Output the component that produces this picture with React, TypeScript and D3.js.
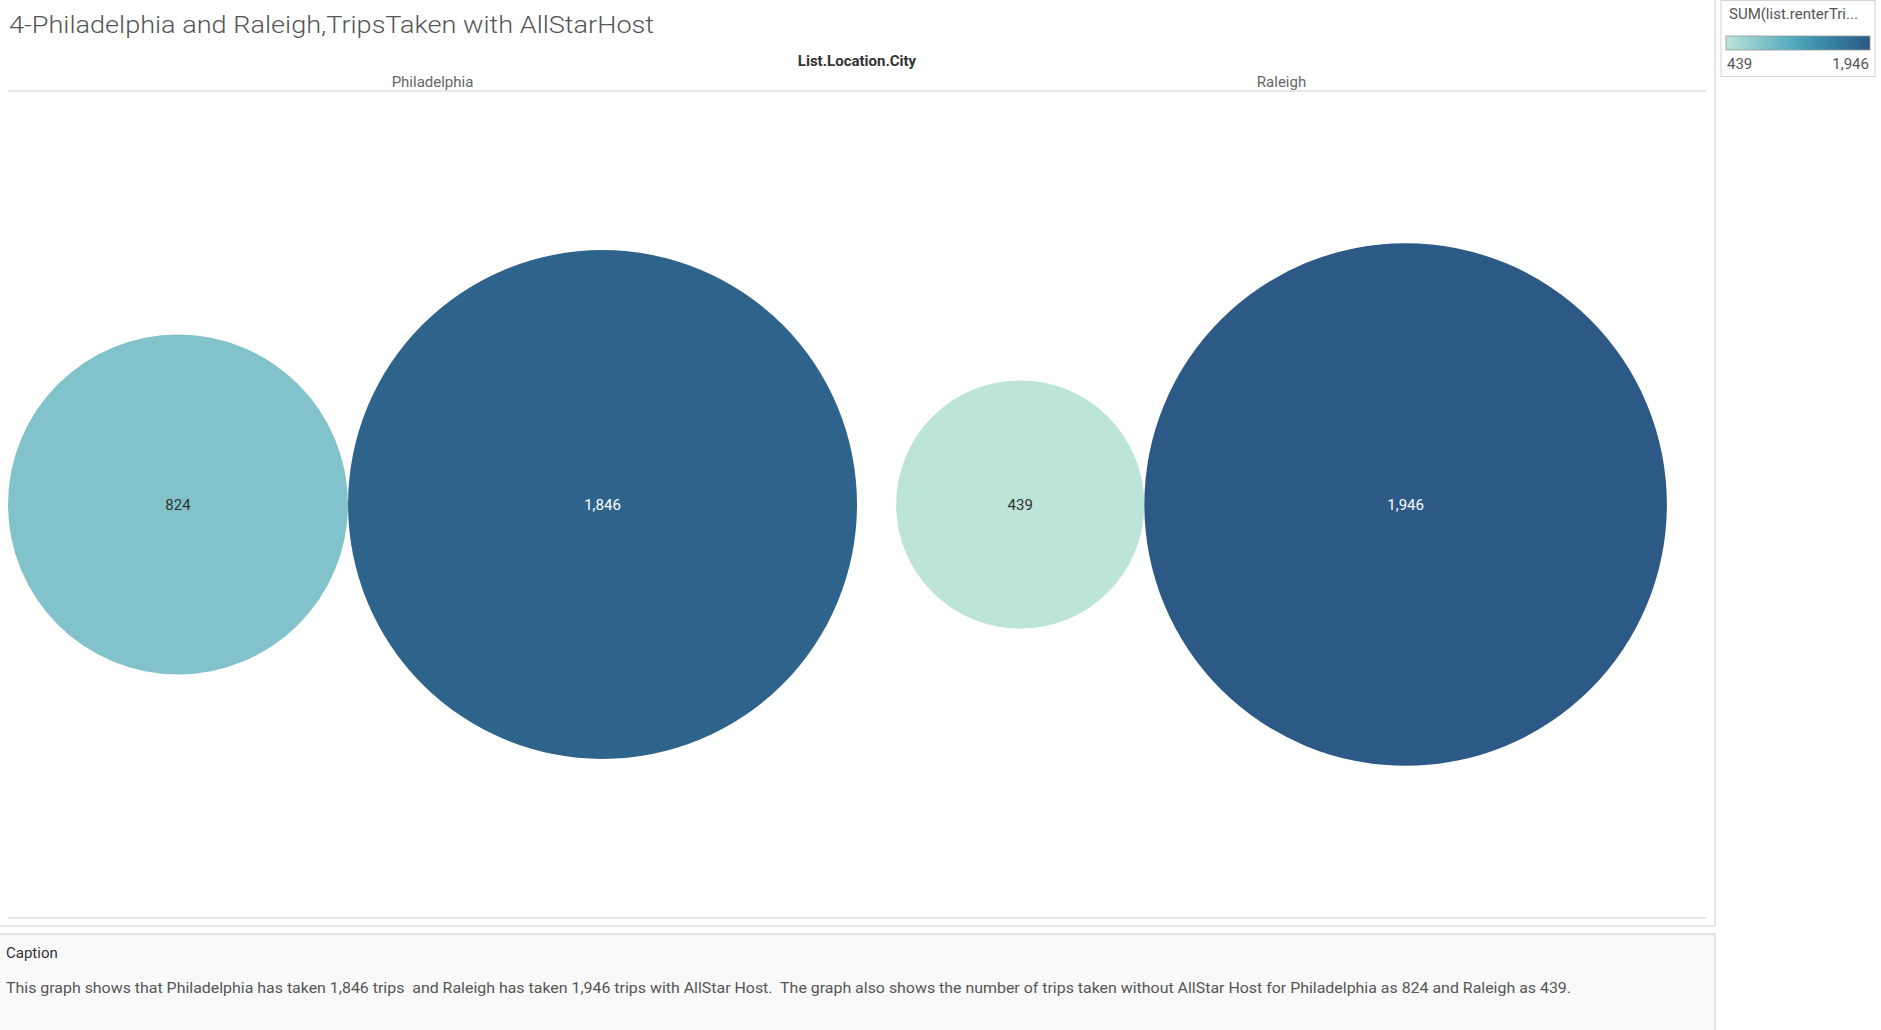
import React from "react";
import * as d3 from "d3";

const cities = ["Philadelphia", "Raleigh"];
const hostGroups = ["Without AllStar Host", "With AllStar Host"];
const philadelphiaTrips = [824, 1846];
const raleighTrips = [439, 1946];
const colorStops = ["#bce4d8", "#83c4cb", "#4ba5ba", "#347ea1", "#2c5985"];
const titleText = "4-Philadelphia and Raleigh,TripsTaken with AllStarHost";
const captionText =
  "This graph shows that Philadelphia has taken 1,846 trips  and Raleigh has taken 1,946 trips with AllStar Host.  The graph also shows the number of trips taken without AllStar Host for Philadelphia as 824 and Raleigh as 439.";

const W = 1881;
const H = 1030;
const FONT = "'Liberation Sans Narrow', 'Roboto', 'Liberation Sans', sans-serif";

export default function App() {
  const series = [philadelphiaTrips, raleighTrips];
  const all = series.flat();
  const vMin = d3.min(all) as number;
  const vMax = d3.max(all) as number;

  const plotLeft = 8;
  const plotRight = 1706;
  const plotTop = 91;
  const plotBottom = 918;
  const cy = (plotTop + plotBottom) / 2;

  const paneScale = d3.scaleBand<string>().domain(cities).range([plotLeft, plotRight]);
  const paneW = paneScale.bandwidth();

  // sqrt radius scale sized so the widest pane's circles fill it
  const k0 = d3.scaleSqrt().domain([0, vMax]).range([0, 1]);
  const widest = d3.max(series, (s) => d3.sum(s, (v) => 2 * k0(v))) as number;
  const rScale = d3.scaleSqrt().domain([0, vMax]).range([0, paneW / widest]);

  const color = d3
    .scaleLinear<string>()
    .domain(colorStops.map((_, i) => vMin + ((vMax - vMin) * i) / (colorStops.length - 1)))
    .range(colorStops)
    .interpolate(d3.interpolateRgb);

  const fmt = d3.format(",");

  const circles: any[] = [];
  cities.forEach((c, ci) => {
    const vals = series[ci];
    const total = d3.sum(vals, (v) => 2 * rScale(v));
    let x = (paneScale(c) as number) + (paneW - total) / 2;
    vals.forEach((v, gi) => {
      const r = rScale(v);
      circles.push({ city: c, group: hostGroups[gi], v, r, cx: x + r, cy });
      x += 2 * r;
    });
  });

  const legendX0 = 1726;
  const legendX1 = 1870;
  const legendScale = d3.scaleLinear().domain([vMin, vMax]).range([legendX0, legendX1]);
  const gradStops = d3.range(0, 1.0001, 0.05).map((t) => ({
    t,
    c: color(vMin + (vMax - vMin) * t),
  }));

  return (
    <svg
      width={W}
      height={H}
      style={{ position: "absolute", left: 0, top: 0, background: "#fff" }}
      fontFamily={FONT}
    >
      <defs>
        <linearGradient id="lg" x1="0" x2="1" y1="0" y2="0">
          {gradStops.map((s) => (
            <stop key={s.t} offset={s.t} stopColor={s.c} />
          ))}
        </linearGradient>
      </defs>

      {/* title */}
      <text x={9} y={33} fontSize={24} fill="#555" fontFamily="'Roboto', sans-serif" fontWeight={300}
        textLength={645} lengthAdjust="spacingAndGlyphs">
        {titleText}
      </text>

      {/* column header */}
      <text x={(plotLeft + plotRight) / 2} y={66} fontSize={15} fill="#333" fontWeight="bold" textAnchor="middle">
        List.Location.City
      </text>
      {cities.map((c) => (
        <text key={c} x={(paneScale(c) as number) + paneW / 2} y={87} fontSize={15} fill="#666" textAnchor="middle">
          {c}
        </text>
      ))}
      <line x1={plotLeft} x2={plotRight} y1={plotTop} y2={plotTop} stroke="#cfcfcf" strokeWidth={1.2} />
      <line x1={plotLeft} x2={plotRight} y1={plotBottom} y2={plotBottom} stroke="#cfcfcf" strokeWidth={1.2} />

      {/* worksheet border */}
      <line x1={1715} x2={1715} y1={0} y2={926} stroke="#d4d4d4" strokeWidth={1.2} />
      <line x1={0} x2={1715} y1={926} y2={926} stroke="#d4d4d4" strokeWidth={1.2} />

      {/* circles */}
      {circles.map((d) => (
        <g key={d.city + d.group}>
          <circle cx={d.cx} cy={d.cy} r={d.r} fill={color(d.v)} />
          <text
            x={d.cx}
            y={d.cy + 5}
            textAnchor="middle"
            fontSize={15}
            fill={d.v > (vMin + vMax) / 2 ? "#ffffff" : "#333333"}
          >
            {fmt(d.v)}
          </text>
        </g>
      ))}

      {/* legend */}
      <rect x={1721} y={0.5} width={154} height={76} fill="#fff" stroke="#d4d4d4" strokeWidth={1} />
      <text x={1729} y={19} fontSize={15} fill="#555">SUM(list.renterTri...</text>
      <rect x={legendScale(vMin)} y={36} width={legendScale(vMax) - legendScale(vMin)} height={14}
        fill="url(#lg)" stroke="#9a9a9a" strokeWidth={0.8} />
      <text x={legendScale(vMin) + 1} y={69} fontSize={15} fill="#555">{fmt(vMin)}</text>
      <text x={legendScale(vMax) - 1} y={69} fontSize={15} fill="#555" textAnchor="end">{fmt(vMax)}</text>

      {/* caption */}
      <rect x={-1} y={934} width={1716} height={100} fill="#f9f9f9" stroke="#d4d4d4" strokeWidth={1.2} />
      <text x={6} y={958} fontSize={15} fill="#333">Caption</text>
      <text x={6} y={993} fontSize={14.5} fill="#555" xmlSpace="preserve" textLength={1565} lengthAdjust="spacingAndGlyphs">
        {captionText}
      </text>
    </svg>
  );
}
